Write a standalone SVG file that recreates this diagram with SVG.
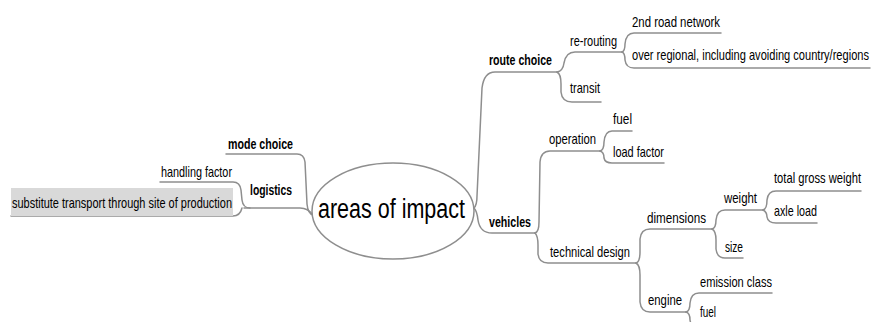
<svg xmlns="http://www.w3.org/2000/svg" width="871" height="322" viewBox="0 0 871 322">
<style>
text{font-family:"Liberation Sans",Arial,sans-serif;font-size:15px;fill:#000}
.b{font-weight:bold}
.c path{fill:none;stroke:#8e8e8e;stroke-width:1.5;stroke-linecap:round}
</style>
<rect width="871" height="322" fill="#fff"/>
<g class="c" id="connectors">
<path d="M226,154 L297,154 Q304,154 305,162 L307,204 Q308,214 313,215"/>
<path d="M244,208 L300,208 Q308,208 313,215"/>
<path d="M160,182 L233,182 Q240,182 241,190 L242,200 Q243,208 250,208"/>
<path d="M11,216 L233,216 Q240,216 242,208"/>
<path d="M474,208 Q477,205 477,196 L482,88 Q484,72 495,72 L557,72"/>
<path d="M474,208 Q477,211 478,220 Q480,233 492,233 L535,233"/>
<path d="M557,72 Q563,71 564,63 Q566,52 575,52 L622,52"/>
<path d="M557,72 Q561,74 561,84 L561,92 Q562,102 572,102 L601,102"/>
<path d="M622,52 Q625,51 625,44 Q626,33 634,33 L721,33"/>
<path d="M622,52 Q625,53 625,60 Q626,68 634,68 L870,68"/>
<path d="M535,233 Q539,232 539,222 L540,162 Q541,151 550,151 L600,151"/>
<path d="M600,151 Q604,150 604,142 Q605,131 612,131 L632,131"/>
<path d="M600,151 Q604,152 604,158 Q605,163 612,163 L664,163"/>
<path d="M535,233 Q538,236 538,245 L538,254 Q539,263 548,263 L636,263"/>
<path d="M636,263 Q640,262 640,252 L640,239 Q641,229 650,229 L712,229"/>
<path d="M636,263 Q640,265 640,275 L640,302 Q641,312 650,312 L686,312"/>
<path d="M712,229 Q716,228 716,220 Q717,210 725,210 L763,210"/>
<path d="M712,229 Q716,231 716,240 L716,249 Q717,258 725,258 L743,258"/>
<path d="M763,210 Q767,209 767,200 Q768,191 776,191 L861,191"/>
<path d="M763,210 Q767,212 767,217 Q768,223 776,223 L817,223"/>
<path d="M686,312 Q690,311 690,303 Q691,293 699,293 L772,293"/>
<path d="M686,312 Q690,313 690,320 Q691,327 699,327 L716,327"/>
</g>
<g id="root">
<ellipse cx="393" cy="211" rx="81" ry="48" fill="#fff" stroke="#8e8e8e" stroke-width="1.5"/>
<text x="318" y="218" style="font-size:27px" textLength="147" lengthAdjust="spacingAndGlyphs">areas of impact</text>
</g>
<g id="mode-choice"><text class="b" x="228" y="149" textLength="65" lengthAdjust="spacingAndGlyphs">mode choice</text></g>
<g id="logistics"><text class="b" x="250" y="195" textLength="42" lengthAdjust="spacingAndGlyphs">logistics</text></g>
<g id="handling-factor"><text x="161" y="177" textLength="71" lengthAdjust="spacingAndGlyphs">handling factor</text></g>
<g id="substitute">
<rect x="11" y="188" width="222" height="28" fill="#d9d9d9"/>
<text x="12" y="208" textLength="220" lengthAdjust="spacingAndGlyphs">substitute transport through site of production</text>
</g>
<g id="route-choice"><text class="b" x="489" y="65" textLength="63" lengthAdjust="spacingAndGlyphs">route choice</text></g>
<g id="re-routing"><text x="570" y="46" textLength="47" lengthAdjust="spacingAndGlyphs">re-routing</text></g>
<g id="road-network"><text x="632" y="27" textLength="88" lengthAdjust="spacingAndGlyphs">2nd road network</text></g>
<g id="over-regional"><text x="632" y="60" textLength="237" lengthAdjust="spacingAndGlyphs">over regional, including avoiding country/regions</text></g>
<g id="transit"><text x="570" y="93" textLength="30" lengthAdjust="spacingAndGlyphs">transit</text></g>
<g id="vehicles"><text class="b" x="489" y="227" textLength="42" lengthAdjust="spacingAndGlyphs">vehicles</text></g>
<g id="operation"><text x="549" y="144" textLength="47" lengthAdjust="spacingAndGlyphs">operation</text></g>
<g id="fuel-op"><text x="613" y="124" textLength="19" lengthAdjust="spacingAndGlyphs">fuel</text></g>
<g id="load-factor"><text x="613" y="157" textLength="51" lengthAdjust="spacingAndGlyphs">load factor</text></g>
<g id="technical-design"><text x="550" y="257" textLength="80" lengthAdjust="spacingAndGlyphs">technical design</text></g>
<g id="dimensions"><text x="647" y="223" textLength="59" lengthAdjust="spacingAndGlyphs">dimensions</text></g>
<g id="weight"><text x="724" y="203" textLength="33" lengthAdjust="spacingAndGlyphs">weight</text></g>
<g id="total-gross-weight"><text x="774" y="183" textLength="87" lengthAdjust="spacingAndGlyphs">total gross weight</text></g>
<g id="axle-load"><text x="774" y="216" textLength="43" lengthAdjust="spacingAndGlyphs">axle load</text></g>
<g id="size"><text x="725" y="252" textLength="18" lengthAdjust="spacingAndGlyphs">size</text></g>
<g id="engine"><text x="648" y="305" textLength="34" lengthAdjust="spacingAndGlyphs">engine</text></g>
<g id="emission-class"><text x="700" y="287" textLength="72" lengthAdjust="spacingAndGlyphs">emission class</text></g>
<g id="fuel-eng"><text x="700" y="317" textLength="16" lengthAdjust="spacingAndGlyphs">fuel</text></g>
</svg>
